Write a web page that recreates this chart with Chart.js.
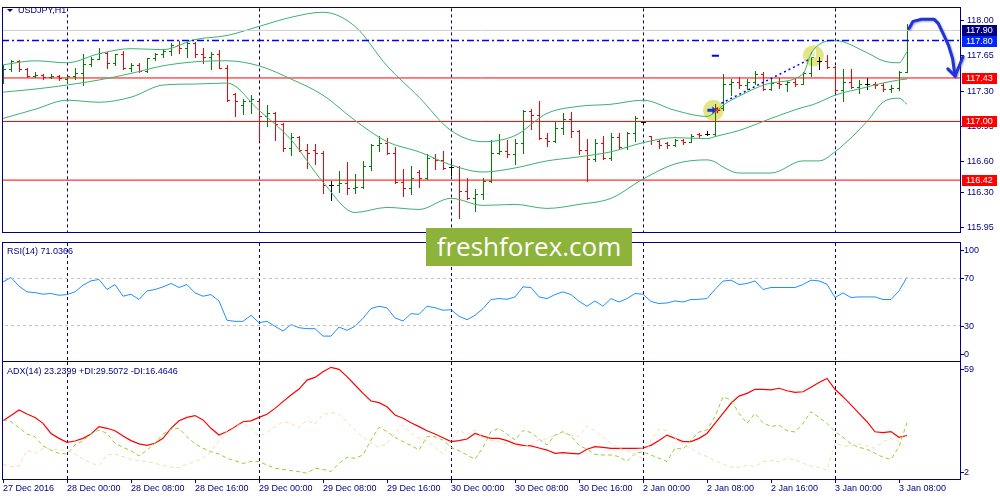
<!DOCTYPE html>
<html>
<head>
<meta charset="utf-8">
<script src="https://cdn.jsdelivr.net/npm/chart.js@4.4.1/dist/chart.umd.min.js"></script>
<style>
  html, body { margin: 0; padding: 0; background: #fff; }
  #wrap { position: relative; width: 1000px; height: 500px; overflow: hidden; background: #fff; }
  canvas { position: absolute; left: 0; }
  #logo { position: absolute; left: 426px; top: 228px; width: 206px; height: 38px; background: #8db33a;
          color: #fff; font: 26px "Open Sans", sans-serif; text-align: center; line-height: 37px; }
</style>
</head>
<body>
<div id="wrap">
  <canvas id="priceChart" width="1000" height="241" style="top:0"></canvas>
  <canvas id="rsiChart" width="1000" height="119" style="top:242px"></canvas>
  <canvas id="adxChart" width="1000" height="139" style="top:361px"></canvas>
  <div id="logo">freshforex.com</div>
</div>
<script>
// USDJPY H1 - bars, bollinger(20), RSI(14), ADX(14)

// ---- data ----
const xLabels = ['27 Dec 2016', '28 Dec 00:00', '28 Dec 08:00', '28 Dec 16:00', '29 Dec 00:00', '29 Dec 08:00',
  '29 Dec 16:00', '30 Dec 00:00', '30 Dec 08:00', '30 Dec 16:00', '2 Jan 00:00', '2 Jan 08:00', '2 Jan 16:00',
  '3 Jan 00:00', '3 Jan 08:00'];
const xTickIdx = [0, 8, 16, 24, 32, 40, 48, 56, 64, 72, 80, 88, 96, 104, 112];
const daySeps = [8, 32, 56, 80, 104];
const priceTicks = [118.00, 117.65, 117.30, 116.95, 116.60, 116.30, 115.95];

const opens = [117.46,117.52,117.60,117.52,117.45,117.46,117.44,117.45,117.42,117.45,
  117.48,117.57,117.62,117.68,117.58,117.665,117.53,117.56,117.50,117.625,
  117.665,117.70,117.76,117.73,117.78,117.665,117.64,117.67,117.53,117.27,
  117.16,117.205,117.20,117.05,117.08,116.97,116.74,116.85,116.72,116.72,
  116.69,116.37,116.37,116.39,116.34,116.35,116.56,116.77,116.79,116.69,
  116.40,116.34,116.50,116.44,116.64,116.615,116.55,116.55,116.31,116.24,
  116.28,116.41,116.69,116.71,116.68,116.79,117.10,117.065,116.84,116.81,
  116.94,117.025,116.91,116.715,116.63,116.785,116.64,116.85,116.745,116.89,
  116.99,116.855,116.81,116.79,116.77,116.82,116.80,116.88,116.88,116.88,
  117.13,117.375,117.39,117.36,117.39,117.47,117.32,117.385,117.375,117.39,
  117.375,117.48,117.60,117.60,117.54,117.31,117.39,117.345,117.37,117.37,
  117.36,117.32,117.33,117.49];
const highs = [117.56,117.61,117.61,117.53,117.49,117.47,117.47,117.46,117.45,117.53,
  117.665,117.64,117.73,117.69,117.67,117.70,117.58,117.58,117.63,117.68,
  117.72,117.78,117.80,117.79,117.79,117.73,117.69,117.71,117.56,117.28,
  117.22,117.26,117.205,117.16,117.09,116.98,116.89,116.86,116.78,116.78,
  116.71,116.41,116.51,116.60,116.48,116.61,116.78,116.86,116.84,116.75,
  116.53,116.56,116.52,116.68,116.68,116.71,116.61,116.56,116.44,116.335,
  116.44,116.82,116.88,116.82,116.83,117.11,117.12,117.20,116.89,116.99,
  117.08,117.09,116.92,116.83,116.83,116.86,116.89,116.89,116.90,117.05,
  116.995,116.86,116.82,116.80,116.83,116.83,116.88,116.89,116.91,117.17,
  117.47,117.42,117.44,117.42,117.50,117.485,117.42,117.43,117.40,117.416,
  117.485,117.686,117.64,117.655,117.55,117.52,117.52,117.41,117.43,117.39,
  117.385,117.36,117.50,117.96];
const lows = [117.38,117.50,117.50,117.44,117.44,117.42,117.43,117.41,117.38,117.42,
  117.36,117.55,117.62,117.53,117.56,117.52,117.50,117.49,117.49,117.61,
  117.64,117.66,117.68,117.64,117.64,117.58,117.52,117.53,117.205,117.05,
  117.07,117.08,116.82,116.96,116.82,116.71,116.67,116.71,116.54,116.58,
  116.29,116.22,116.30,116.28,116.29,116.34,116.52,116.71,116.68,116.39,
  116.26,116.28,116.35,116.43,116.53,116.53,116.475,116.05,116.23,116.11,
  116.235,116.40,116.68,116.65,116.58,116.69,116.93,116.83,116.755,116.80,
  116.88,116.85,116.68,116.41,116.61,116.63,116.62,116.74,116.73,116.81,
  116.97,116.775,116.74,116.74,116.755,116.775,116.80,116.85,116.87,116.87,
  117.11,117.26,117.335,117.32,117.375,117.315,117.31,117.335,117.30,117.354,
  117.366,117.454,117.516,117.53,117.29,117.205,117.335,117.28,117.32,117.335,
  117.30,117.29,117.315,117.485];
const closes = [117.52,117.60,117.52,117.45,117.46,117.44,117.45,117.43,117.45,117.48,
  117.57,117.62,117.68,117.58,117.665,117.53,117.56,117.50,117.625,117.665,
  117.70,117.76,117.73,117.78,117.665,117.64,117.67,117.53,117.21,117.205,
  117.205,117.22,117.05,117.08,116.97,116.74,116.85,116.72,116.69,116.69,
  116.37,116.37,116.39,116.34,116.35,116.56,116.77,116.79,116.69,116.40,
  116.34,116.44,116.44,116.64,116.615,116.54,116.55,116.31,116.24,116.28,
  116.41,116.69,116.71,116.68,116.79,117.10,117.065,116.84,116.81,116.94,
  117.025,116.91,116.715,116.63,116.785,116.64,116.85,116.745,116.89,117.035,
  116.99,116.82,116.77,116.77,116.82,116.80,116.86,116.87,116.88,117.13,
  117.375,117.39,117.36,117.39,117.47,117.32,117.385,117.375,117.39,117.375,
  117.48,117.64,117.60,117.54,117.31,117.39,117.345,117.37,117.37,117.36,
  117.32,117.33,117.49,117.90];

// bollinger bands, read at these bar indices
const bbIdx = [0,4,8,12,16,20,24,28,32,36,40,44,48,52,56,60,64,68,72,76,80,84,88,89,90,92,96,100,101,102,104,108,110,112,113];
const bbUpper = [117.56,117.60,117.58,117.67,117.72,117.71,117.81,117.85,117.94,118.03,118.08,117.94,117.55,117.24,
  116.91,116.80,116.86,117.08,117.15,117.17,117.21,117.11,117.05,117.09,117.16,117.25,117.38,117.47,117.67,117.76,
  117.80,117.68,117.60,117.58,117.69];
const bbMiddle = [117.29,117.32,117.36,117.41,117.475,117.55,117.59,117.60,117.55,117.42,117.26,117.01,116.80,116.70,
  116.57,116.50,116.54,116.61,116.65,116.70,116.79,116.84,116.83,116.85,116.87,116.91,117.03,117.14,117.16,117.19,
  117.26,117.34,117.38,117.41,117.42];
const bbLower = [117.03,117.12,117.21,117.19,117.24,117.36,117.37,117.38,117.11,116.82,116.40,116.10,116.15,116.13,
  116.24,116.17,116.18,116.14,116.18,116.24,116.43,116.58,116.62,116.60,116.55,116.49,116.49,116.61,116.61,116.61,
  116.70,117.00,117.19,117.23,117.17];

const supportLevels = [117.43, 117.00, 116.42];
const bidPrice = 117.90;
const orderPrice = 117.80;
const markIdx = [88.8, 101.3];
const markPrice = [117.11, 117.65];
const trendIdx = [89.8, 100.7];
const trendPrice = [117.18, 117.61];
const stopIdx = [88.6, 89.5];
const stopPrice = [117.65, 117.65];
const arrowIdx = [113.25, 113.75, 114.8, 116.4, 116.9, 117.5, 118.2, 118.7, 119.0];
const arrowPrice = [117.92, 117.99, 118.01, 118.01, 117.97, 117.87, 117.75, 117.62, 117.45];
const arrowWingIdx = [118.1, 119.0, 120.0];
const arrowWingPrice = [117.52, 117.45, 117.64];

const rsi = [67.1,70.8,63.4,58.6,58.0,56.6,57.2,55.7,56.3,58.6,
  64.3,67.9,69.1,60.6,64.8,54.9,56.6,52.1,59.4,60.6,
  62.8,65.7,62.3,64.8,57.7,54.9,56.3,50.9,34.5,33.6,
  33.6,38.7,32.5,33.6,29.4,25.4,30.8,28.2,27.4,27.4,
  21.1,21.1,28.8,26.0,29.4,36.2,44.4,46.4,45.0,36.5,
  33.9,40.1,39.5,46.4,45.2,43.0,43.5,37.9,35.0,38.7,
  44.4,52.1,52.9,52.3,54.3,62.8,62.3,54.3,52.9,56.3,
  58.6,56.3,50.6,46.4,50.9,46.4,52.9,50.0,52.9,57.2,
  56.6,50.4,48.7,49.2,50.9,50.0,52.1,52.3,52.9,60.6,
  67.7,68.5,64.8,65.7,67.9,60.6,62.3,62.3,62.3,62.3,
  64.8,68.5,67.9,65.1,53.8,57.7,53.8,54.3,54.3,54.3,
  52.1,52.1,59.4,71.0];
const rsiLevels = [70, 30];
const rsiLabels = [100, 70, 30, 0];

const adx = [30.4,32.9,35.6,33.7,32.0,29.1,24.2,21.8,19.9,20.5,
  21.8,23.9,27.5,26.7,25.5,22.9,20.7,19.1,18.4,19.4,
  21.8,26.7,30.4,32.0,32.9,30.8,26.7,23.4,25.1,27.5,
  29.9,30.3,32.0,33.5,36.4,39.7,42.9,45.8,50.2,51.5,
  54.3,56.4,55.4,51.9,47.8,43.7,40.0,39.2,37.2,33.2,
  31.6,29.4,27.5,25.5,23.9,22.1,20.2,20.7,21.5,24.2,
  22.9,21.8,21.8,20.7,19.1,18.4,18.1,17.1,16.1,14.5,
  14.8,14.5,14.2,16.5,17.8,17.4,16.9,16.9,16.9,16.9,
  17.1,18.4,20.7,23.4,21.8,20.2,20.2,21.8,24.2,29.1,
  34.0,38.9,42.4,43.7,45.7,45.7,45.4,46.2,45.0,44.2,
  44.5,46.7,49.0,51.0,45.7,42.1,38.1,34.0,29.9,25.0,
  24.6,25.1,22.3,23.2];
const plusDI = [30.7,29.9,27.0,23.9,22.6,18.1,16.1,14.5,14.2,18.6,
  20.7,23.9,25.9,24.2,19.4,17.4,15.8,13.2,16.1,19.4,
  23.9,26.2,26.7,22.6,19.1,17.0,15.3,14.2,12.1,10.9,
  9.6,10.5,10.5,8.8,7.2,6.7,6.1,5.6,4.8,7.2,
  6.7,5.6,9.6,12.6,12.1,13.7,21.0,27.2,25.1,22.3,
  20.2,18.4,16.1,22.6,22.6,21.0,17.4,15.8,13.7,11.6,
  17.4,25.1,26.7,23.9,21.0,25.6,24.7,21.5,18.6,23.4,
  25.1,22.9,18.4,16.5,14.0,13.7,13.7,12.9,10.5,14.5,
  15.3,13.7,12.1,10.5,17.0,16.5,21.0,24.9,25.9,32.4,
  42.1,40.5,34.0,29.1,34.0,29.4,27.5,28.3,25.5,24.9,
  29.1,34.8,32.0,29.1,25.1,22.3,19.1,17.4,16.5,14.5,
  12.6,11.6,17.7,29.5];
const minusDI = [9.1,8.0,8.3,16.1,14.5,16.9,16.5,16.3,15.8,14.2,
  11.7,9.6,8.7,13.7,14.2,12.9,11.6,10.9,10.5,9.6,
  8.7,7.7,7.5,9.3,10.5,12.1,15.3,21.0,25.6,27.8,
  28.8,26.7,22.9,24.6,27.5,29.9,29.1,27.0,30.7,28.8,
  33.2,34.5,33.5,29.9,25.9,22.3,19.7,17.4,19.4,24.2,
  28.3,24.2,21.8,20.7,17.4,14.2,21.0,25.9,23.4,25.9,
  22.3,20.7,20.2,19.1,18.1,17.7,18.6,21.3,21.5,23.1,
  24.6,23.4,22.6,27.8,25.6,22.3,19.4,16.9,15.8,13.7,
  12.1,21.0,26.4,25.6,21.8,18.6,17.0,14.5,12.9,10.9,
  9.3,7.7,7.7,8.8,8.0,10.5,11.0,10.3,12.1,11.3,
  9.6,8.3,7.7,6.4,19.4,18.1,18.1,19.1,18.1,17.0,
  20.2,21.7,20.2,16.5];
const adxLabels = [59, 2];

// ---- styles ----
const NAVY = '#000080';
const FONT = '9px "Liberation Sans", Arial, sans-serif';
const X_MAX = 119.625;
const tagColors = ['#000080', '#0026ff', '#ff0000', '#ff0000', '#ff0000'];
const tagPrices = [bidPrice, orderPrice].concat(supportLevels);

const xy = (xs, ys) => xs.map((x, k) => ({ x: x, y: ys[k] }));
const idx = rsi.map((v, i) => i);
const flat = v => [{ x: -2, y: v }, { x: X_MAX + 2, y: v }];

function lineSet(data, color, extra) {
  return Object.assign({ data: data, borderColor: color, borderWidth: 1, pointRadius: 0, fill: false }, extra || {});
}

// borders, day separators, panel caption, side labels
const decor = {
  id: 'decor',
  beforeDatasetsDraw(chart) {
    const { ctx, chartArea: ca, scales: { x } } = chart;
    ctx.save();
    ctx.strokeStyle = NAVY;
    ctx.lineWidth = 1;
    ctx.setLineDash([3, 3]);
    daySeps.forEach(d => {
      const px = Math.round(x.getPixelForValue(d)) + 0.5;
      ctx.beginPath();
      ctx.moveTo(px, ca.top);
      ctx.lineTo(px, ca.bottom);
      ctx.stroke();
    });
    ctx.restore();
  },
  afterDraw(chart, args, opts) {
    const { ctx, chartArea: ca, scales: { y } } = chart;
    ctx.save();
    ctx.strokeStyle = NAVY;
    ctx.lineWidth = 1;
    ctx.strokeRect(Math.round(ca.left) - 0.5, Math.round(ca.top) - 0.5,
      Math.round(ca.right - ca.left) + 1, Math.round(ca.bottom - ca.top) + 1);
    ctx.fillStyle = NAVY;
    ctx.font = FONT;
    ctx.textBaseline = 'middle';
    if (opts.caption) {
      ctx.fillText(opts.caption, opts.capX, ca.top + opts.capDy);
    }
    if (opts.sideLabels) {
      opts.sideLabels.forEach(v => {
        let py = y.getPixelForValue(v);
        py = Math.min(Math.max(py, ca.top + 7), ca.bottom - 7);
        py = Math.round(py) + 0.5;
        ctx.beginPath();
        ctx.moveTo(ca.right, py);
        ctx.lineTo(ca.right + 4, py);
        ctx.stroke();
        ctx.fillText(String(v), ca.right + 4, py);
      });
    }
    ctx.restore();
  }
};

// bars, markers, drawn arrow, price tags
const priceMarks = {
  id: 'priceMarks',
  beforeDatasetsDraw(chart) {
    const { ctx, chartArea: ca, scales: { x, y } } = chart;
    ctx.save();
    ctx.beginPath();
    ctx.rect(ca.left, ca.top, ca.right - ca.left, ca.bottom - ca.top);
    ctx.clip();
    // yellow circles
    ctx.fillStyle = 'rgba(226,226,120,0.9)';
    markIdx.forEach((m, k) => {
      ctx.beginPath();
      ctx.arc(x.getPixelForValue(m), y.getPixelForValue(markPrice[k]), 10.5, 0, Math.PI * 2);
      ctx.fill();
    });
    // ohlc bars
    ctx.lineWidth = 1;
    for (let i = 0; i < closes.length; i++) {
      const n = Math.round(x.getPixelForValue(i));
      const px = n + 0.5;
      const yh = Math.round(y.getPixelForValue(highs[i]));
      const yl = Math.round(y.getPixelForValue(lows[i]));
      const yo = Math.round(y.getPixelForValue(opens[i])) + 0.5;
      const yc = Math.round(y.getPixelForValue(closes[i])) + 0.5;
      ctx.strokeStyle = closes[i] > opens[i] ? '#008000' : (closes[i] < opens[i] ? '#ff0000' : '#000000');
      ctx.beginPath();
      ctx.moveTo(px, yh);
      ctx.lineTo(px, yl + 1);
      ctx.moveTo(n - 2, yo);
      ctx.lineTo(n + 1, yo);
      ctx.moveTo(n, yc);
      ctx.lineTo(n + 3, yc);
      ctx.stroke();
    }
    // symbols inside circles
    const c1x = x.getPixelForValue(markIdx[0]), c1y = y.getPixelForValue(markPrice[0]);
    ctx.fillStyle = '#1030e0';
    ctx.beginPath();
    ctx.moveTo(c1x - 6, c1y - 1.5); ctx.lineTo(c1x - 1, c1y - 1.5); ctx.lineTo(c1x - 1, c1y - 4);
    ctx.lineTo(c1x + 3, c1y); ctx.lineTo(c1x - 1, c1y + 4); ctx.lineTo(c1x - 1, c1y + 1.5);
    ctx.lineTo(c1x - 6, c1y + 1.5); ctx.closePath(); ctx.fill();
    ctx.strokeStyle = '#ff0000';
    ctx.lineWidth = 1.5;
    ctx.beginPath();
    ctx.moveTo(c1x + 1, c1y); ctx.lineTo(c1x + 7, c1y);
    ctx.moveTo(c1x + 4, c1y - 3); ctx.lineTo(c1x + 4, c1y + 3);
    ctx.stroke();
    const c2x = x.getPixelForValue(markIdx[1]), c2y = y.getPixelForValue(markPrice[1]);
    ctx.strokeStyle = '#ffffff';
    ctx.lineWidth = 1.2;
    ctx.beginPath();
    ctx.moveTo(c2x + 2, c2y - 6); ctx.lineTo(c2x - 3, c2y + 1); ctx.lineTo(c2x + 2, c2y + 1); ctx.closePath();
    ctx.stroke();
    ctx.restore();
  },
  afterDraw(chart) {
    const { ctx, chartArea: ca, scales: { x, y } } = chart;
    ctx.save();
    // hand drawn arrow
    ctx.strokeStyle = '#1f33d8';
    ctx.lineWidth = 3;
    ctx.lineCap = 'round';
    ctx.lineJoin = 'round';
    ctx.shadowColor = 'rgba(60,60,140,0.45)';
    ctx.shadowBlur = 2;
    ctx.shadowOffsetX = 1;
    ctx.shadowOffsetY = 1;
    ctx.beginPath();
    arrowIdx.forEach((a, k) => {
      const px = x.getPixelForValue(a), py = y.getPixelForValue(arrowPrice[k]);
      if (k === 0) ctx.moveTo(px, py); else ctx.lineTo(px, py);
    });
    ctx.stroke();
    ctx.beginPath();
    arrowWingIdx.forEach((a, k) => {
      const px = x.getPixelForValue(a), py = y.getPixelForValue(arrowWingPrice[k]);
      if (k === 0) ctx.moveTo(px, py); else ctx.lineTo(px, py);
    });
    ctx.stroke();
    ctx.restore();

    // price tags on the axis
    ctx.save();
    ctx.font = FONT;
    ctx.textBaseline = 'middle';
    tagPrices.forEach((p, k) => {
      const py = Math.round(y.getPixelForValue(p));
      ctx.fillStyle = tagColors[k];
      ctx.fillRect(ca.right + 2, py - 5, 35, 11);
      ctx.fillStyle = '#ffffff';
      ctx.fillText(p.toFixed(2), ca.right + 6, py + 0.5);
    });
    // symbol caption
    ctx.fillStyle = NAVY;
    ctx.beginPath();
    ctx.moveTo(7, 9); ctx.lineTo(13, 9); ctx.lineTo(10, 12); ctx.closePath();
    ctx.fill();
    ctx.fillText('USDJPY,H1', 18, 10.5);
    ctx.restore();
  }
};

function xScale(show) {
  const s = { type: 'linear', min: 0, max: X_MAX, display: show };
  if (show) {
    Object.assign(s, {
      afterFit: sc => { sc.height = 21; },
      afterBuildTicks: sc => { sc.ticks = xTickIdx.map(v => ({ value: v })); },
      grid: { drawOnChartArea: false, tickLength: 4, color: NAVY },
      border: { color: NAVY },
      ticks: {
        align: 'start', padding: 0, maxRotation: 0, autoSkip: false, color: NAVY,
        font: { family: 'Liberation Sans', size: 9 },
        callback: v => xLabels[xTickIdx.indexOf(v)] || ''
      }
    });
  }
  return s;
}

function baseOptions(yScale, showX, decorOpts, padding) {
  return {
    responsive: false,
    animation: false,
    events: [],
    layout: { padding: padding },
    plugins: { legend: { display: false }, tooltip: { enabled: false }, decor: decorOpts },
    scales: { x: xScale(showX), y: yScale }
  };
}

// ---- price panel ----
const priceDatasets = [
  lineSet(flat(bidPrice), '#d0d0d0'),
  lineSet(flat(orderPrice), '#0000ff', { borderWidth: 1.5, borderDash: [7, 3, 2, 3] }),
  lineSet(xy(bbIdx, bbUpper), '#3cb371', { cubicInterpolationMode: 'monotone' }),
  lineSet(xy(bbIdx, bbMiddle), '#3cb371', { cubicInterpolationMode: 'monotone' }),
  lineSet(xy(bbIdx, bbLower), '#3cb371', { cubicInterpolationMode: 'monotone' }),
  lineSet(xy(trendIdx, trendPrice), '#0000ff', { borderWidth: 1.5, borderDash: [2, 3] }),
  lineSet(xy(stopIdx, stopPrice), '#0000ff', { borderWidth: 2 })
].concat(supportLevels.map(v => lineSet(flat(v), '#ff0000')));

new Chart(document.getElementById('priceChart'), {
  type: 'line',
  data: { datasets: priceDatasets },
  options: baseOptions({
    type: 'linear', position: 'right', min: 115.901, max: 118.118,
    afterFit: sc => { sc.width = 40; },
    afterBuildTicks: sc => { sc.ticks = priceTicks.map(v => ({ value: v })); },
    grid: { drawOnChartArea: false, tickLength: 4, color: NAVY },
    border: { color: NAVY },
    ticks: { padding: 3, color: NAVY, font: { family: 'Liberation Sans', size: 9 }, callback: v => v.toFixed(2) }
  }, false, {}, { left: 3, top: 2, right: 0, bottom: 1 }),
  plugins: [decor, priceMarks]
});

// ---- RSI panel ----
new Chart(document.getElementById('rsiChart'), {
  type: 'line',
  data: {
    datasets: [
      lineSet(flat(rsiLevels[0]), '#c0c0c0', { borderDash: [3, 3] }),
      lineSet(flat(rsiLevels[1]), '#c0c0c0', { borderDash: [3, 3] }),
      lineSet(xy(idx, rsi), '#1e90ff')
    ]
  },
  options: baseOptions({
    type: 'linear', position: 'right', min: 0, max: 100,
    afterFit: sc => { sc.width = 40; },
    grid: { display: false }, border: { color: NAVY }, ticks: { display: false }
  }, false, { caption: 'RSI(14) 71.0366', capX: 7, capDy: 9, sideLabels: rsiLabels },
  { left: 3, top: 1, right: 0, bottom: 0 }),
  plugins: [decor]
});

// ---- ADX panel ----
new Chart(document.getElementById('adxChart'), {
  type: 'line',
  data: {
    datasets: [
      lineSet(xy(idx, minusDI), '#f5deb3', { borderDash: [4, 3] }),
      lineSet(xy(idx, plusDI), '#9acd32', { borderDash: [4, 3] }),
      lineSet(xy(idx, adx), '#ff0000', { borderWidth: 1.2 })
    ]
  },
  options: baseOptions({
    type: 'linear', position: 'right', min: 2, max: 59,
    afterFit: sc => { sc.width = 40; },
    grid: { display: false }, border: { color: NAVY }, ticks: { display: false }
  }, true, { caption: 'ADX(14) 23.2399 +DI:29.5072 -DI:16.4646', capX: 7, capDy: 10, sideLabels: adxLabels },
  { left: 3, top: 1, right: 0, bottom: 0 }),
  plugins: [decor]
});
</script>
</body>
</html>
